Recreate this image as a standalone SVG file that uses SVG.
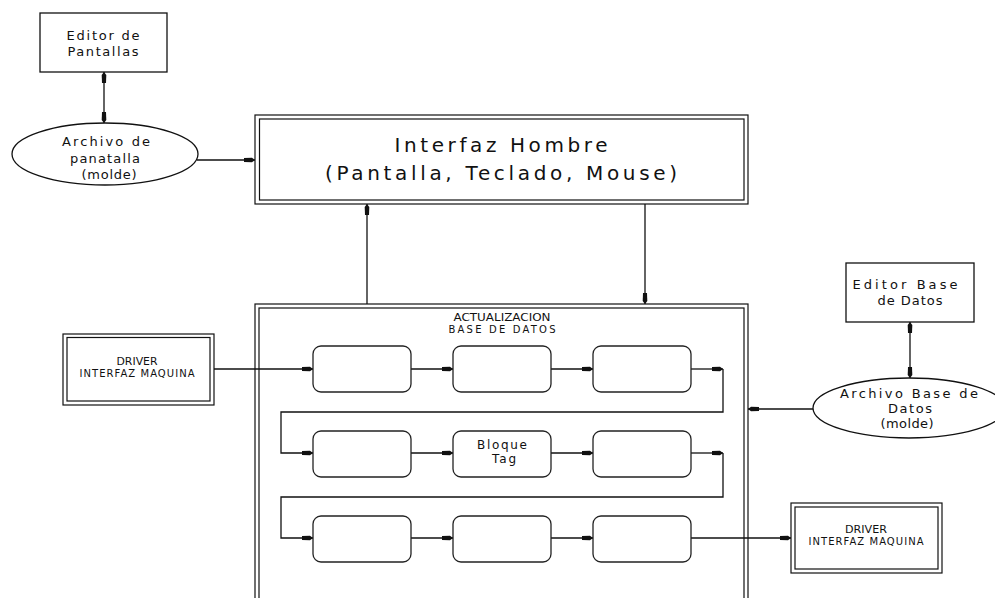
<svg xmlns="http://www.w3.org/2000/svg" width="995" height="598" viewBox="0 0 995 598">
<style>
.box{fill:#fff;stroke:#111;stroke-width:1.3}
.dbl{fill:none;stroke:#111;stroke-width:1.2}
.rb{fill:#fff;stroke:#222;stroke-width:1.3}
.ln{fill:none;stroke:#111;stroke-width:1.3}
text{font-family:"DejaVu Sans","Liberation Sans",Arial,sans-serif;fill:#111;text-anchor:middle}
.t13{font-size:13px}
.t20{font-size:20px}
.t10{font-size:10px}
.t12{font-size:12px}
</style>
<defs>
<marker id="ar" viewBox="0 -3 11 6" refX="11" refY="0" markerWidth="11" markerHeight="6" markerUnits="userSpaceOnUse" orient="auto-start-reverse">
<path d="M0,-2 L8,-2.3 L11,0 L8,2.3 L0,2 Z" fill="#111"/>
</marker>
</defs>
<rect width="995" height="598" fill="#fff"/>

<g id="connectors">
<line class="ln" x1="104" y1="72" x2="104" y2="123" marker-start="url(#ar)" marker-end="url(#ar)"/>
<line class="ln" x1="197" y1="160" x2="255" y2="160" marker-end="url(#ar)"/>
<line class="ln" x1="367" y1="304" x2="367" y2="204" marker-end="url(#ar)"/>
<line class="ln" x1="645" y1="204" x2="645" y2="304" marker-end="url(#ar)"/>
<line class="ln" x1="214" y1="369" x2="313" y2="369" marker-end="url(#ar)"/>
<line class="ln" x1="411" y1="369" x2="453" y2="369" marker-end="url(#ar)"/>
<line class="ln" x1="551" y1="369" x2="593" y2="369" marker-end="url(#ar)"/>
<line class="ln" x1="691" y1="369" x2="723" y2="369" marker-end="url(#ar)"/>
<polyline class="ln" points="723,369 723,412 281,412 281,453 313,453" marker-end="url(#ar)"/>
<line class="ln" x1="411" y1="453" x2="453" y2="453" marker-end="url(#ar)"/>
<line class="ln" x1="551" y1="453" x2="593" y2="453" marker-end="url(#ar)"/>
<line class="ln" x1="691" y1="453" x2="723" y2="453" marker-end="url(#ar)"/>
<polyline class="ln" points="723,453 723,497 281,497 281,538 313,538" marker-end="url(#ar)"/>
<line class="ln" x1="411" y1="538" x2="453" y2="538" marker-end="url(#ar)"/>
<line class="ln" x1="551" y1="538" x2="593" y2="538" marker-end="url(#ar)"/>
<line class="ln" x1="691" y1="538" x2="791" y2="538" marker-end="url(#ar)"/>
<line class="ln" x1="910" y1="322" x2="910" y2="378" marker-start="url(#ar)" marker-end="url(#ar)"/>
<line class="ln" x1="813" y1="409" x2="748" y2="409" marker-end="url(#ar)"/>
</g>

<g id="editor-pantallas">
<rect class="box" x="40" y="13" width="127" height="59"/>
<text class="t13" x="103" y="40" textLength="73" lengthAdjust="spacing">Editor  de</text>
<text class="t13" x="103" y="56" textLength="71" lengthAdjust="spacing">Pantallas</text>
</g>

<g id="archivo-pantalla">
<ellipse class="box" cx="105" cy="154" rx="93" ry="31"/>
<text class="t13" x="106" y="146" textLength="88" lengthAdjust="spacing">Archivo  de</text>
<text class="t13" x="105" y="163" textLength="70" lengthAdjust="spacing">panatalla</text>
<text class="t13" x="109" y="179" textLength="55" lengthAdjust="spacing">(molde)</text>
</g>

<g id="interfaz-hombre">
<rect class="dbl" x="255" y="115" width="493" height="89" fill="#fff"/>
<rect class="dbl" x="259.5" y="119" width="484.5" height="81"/>
<text class="t20" x="501" y="152" textLength="213" lengthAdjust="spacing">Interfaz  Hombre</text>
<text class="t20" x="501" y="180" textLength="352" lengthAdjust="spacing">(Pantalla,  Teclado,  Mouse)</text>
</g>

<g id="actualizacion">
<rect class="dbl" x="255" y="304" width="493" height="310"/>
<rect class="dbl" x="259" y="308" width="485" height="302"/>
<text class="t10" x="502" y="321" textLength="97" lengthAdjust="spacingAndGlyphs">ACTUALIZACION</text>
<text class="t10" x="502" y="333" textLength="107" lengthAdjust="spacing">BASE  DE  DATOS</text>
</g>

<g id="bloque-1"><rect class="rb" x="313" y="346" width="98" height="46" rx="8"/></g>
<g id="bloque-2"><rect class="rb" x="453" y="346" width="98" height="46" rx="8"/></g>
<g id="bloque-3"><rect class="rb" x="593" y="346" width="98" height="46" rx="8"/></g>
<g id="bloque-4"><rect class="rb" x="313" y="431" width="98" height="46" rx="8"/></g>
<g id="bloque-tag">
<rect class="rb" x="453" y="431" width="98" height="46" rx="8"/>
<text class="t12" x="502" y="449" textLength="50" lengthAdjust="spacing">Bloque</text>
<text class="t12" x="504" y="463" textLength="24" lengthAdjust="spacing">Tag</text>
</g>
<g id="bloque-6"><rect class="rb" x="593" y="431" width="98" height="46" rx="8"/></g>
<g id="bloque-7"><rect class="rb" x="313" y="516" width="98" height="46" rx="8"/></g>
<g id="bloque-8"><rect class="rb" x="453" y="516" width="98" height="46" rx="8"/></g>
<g id="bloque-9"><rect class="rb" x="593" y="516" width="98" height="46" rx="8"/></g>

<g id="driver-izq">
<rect class="dbl" x="63" y="334" width="151" height="71" fill="#fff"/>
<rect class="dbl" x="67" y="337.5" width="143" height="63.5"/>
<text class="t10" x="137" y="365" textLength="41" lengthAdjust="spacingAndGlyphs">DRIVER</text>
<text class="t10" x="137" y="377" textLength="115" lengthAdjust="spacing">INTERFAZ  MAQUINA</text>
</g>

<g id="driver-der">
<rect class="dbl" x="791" y="503" width="151" height="70" fill="#fff"/>
<rect class="dbl" x="795" y="507" width="143" height="62"/>
<text class="t10" x="866" y="533" textLength="42" lengthAdjust="spacingAndGlyphs">DRIVER</text>
<text class="t10" x="866" y="545" textLength="115" lengthAdjust="spacing">INTERFAZ  MAQUINA</text>
</g>

<g id="editor-base">
<rect class="box" x="846" y="263" width="128" height="59"/>
<text class="t13" x="905" y="289" textLength="105" lengthAdjust="spacing">Editor  Base</text>
<text class="t13" x="910" y="305" textLength="65" lengthAdjust="spacing">de  Datos</text>
</g>

<g id="archivo-base">
<ellipse class="box" cx="909" cy="408" rx="96" ry="30"/>
<text class="t13" x="909" y="398" textLength="138" lengthAdjust="spacing">Archivo  Base  de</text>
<text class="t13" x="910" y="413" textLength="44" lengthAdjust="spacing">Datos</text>
<text class="t13" x="907" y="428" textLength="53" lengthAdjust="spacing">(molde)</text>
</g>
</svg>
